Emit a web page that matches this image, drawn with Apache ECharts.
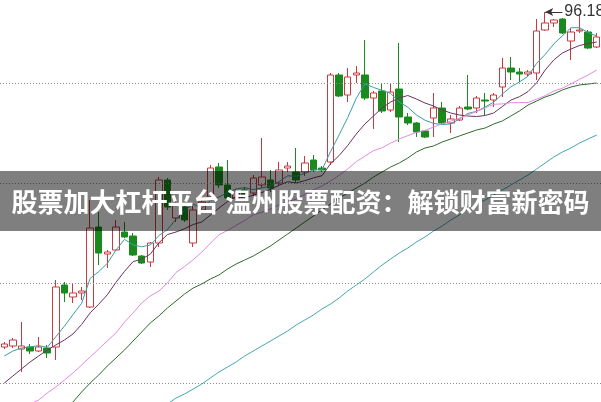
<!DOCTYPE html>
<html>
<head>
<meta charset="utf-8">
<script src="https://cdn.jsdelivr.net/npm/echarts@6/dist/echarts.min.js"></script>
<style>html,body{margin:0;padding:0;background:#fff;}#c{width:601px;height:402px;}</style>
</head>
<body>
<div id="c"></div>
<script>
const categories = Array.from({length: 70}, (_, i) => 'D' + (i + 1));

const openVals = [62.68,62.78,62.48,62.68,62.28,62.58,62.68,68.88,67.68,68.08,
66.68,74.68,71.98,72.38,74.18,73.78,71.78,71.18,73.08,79.38,
75.58,76.68,73.08,76.38,77.68,80.68,78.88,77.58,78.38,78.08,
78.88,79.38,79.08,80.58,80.18,80.18,81.38,80.58,81.18,89.88,
87.88,89.88,89.88,87.58,88.28,86.38,88.48,85.68,85.08,84.28,
85.58,86.58,85.08,85.38,86.68,86.58,87.38,87.38,88.68,90.58,
90.18,89.98,90.08,94.38,95.08,95.48,93.28,94.28,94.18,92.68];

const closeVals = [62.98,63.38,62.78,62.28,62.68,62.08,68.68,68.08,68.08,68.28,
74.58,72.08,72.18,74.68,73.68,71.88,71.08,73.08,79.38,76.68,
77.08,75.38,76.38,77.18,80.58,78.88,77.58,78.18,77.88,79.58,
79.68,78.58,80.38,80.78,79.38,81.08,80.38,80.38,89.88,87.78,
89.68,90.08,87.58,88.08,86.28,88.18,85.68,85.08,84.18,83.68,
86.58,85.08,85.48,86.58,86.48,87.58,87.28,87.88,90.58,90.18,
89.98,90.18,94.28,95.08,95.38,94.08,94.18,94.38,92.58,93.68];

const lowVals = [62.48,62.58,60.18,61.98,62.18,61.58,61.38,67.18,67.08,67.38,
66.58,70.88,70.58,72.28,73.58,71.78,70.98,70.68,72.68,76.38,
75.18,75.18,72.68,76.18,77.38,78.58,77.38,77.38,77.68,77.78,
78.58,78.18,78.78,80.18,79.08,79.78,80.18,80.18,80.88,87.68,
87.18,89.08,87.38,84.48,86.08,86.18,83.18,84.88,83.68,83.58,
83.68,84.98,84.08,85.28,86.38,86.08,85.88,86.68,87.68,89.38,
89.18,89.78,89.38,94.28,94.68,93.98,91.38,94.08,92.48,92.58];

const highVals = [63.18,63.58,65.18,62.98,63.68,62.88,69.38,69.18,69.08,68.68,
77.38,76.18,72.38,75.38,75.18,74.08,71.88,73.18,79.68,79.58,
77.58,76.88,76.88,77.58,80.88,81.08,81.38,78.48,78.68,79.88,
83.58,80.38,81.18,81.18,82.58,81.78,81.88,80.78,90.08,90.08,
90.58,90.78,93.38,88.28,89.08,88.98,93.08,86.08,85.18,84.38,
88.08,87.18,85.88,86.78,89.88,87.78,88.08,88.08,91.58,91.68,
90.58,90.38,95.48,96.18,95.48,95.58,94.58,95.88,94.38,94.08];

const ma5 = [61.78,62.28,62.58,62.68,62.82,62.64,63.70,64.76,65.92,67.04,
69.54,70.22,71.04,72.36,73.44,72.90,72.70,72.88,73.82,74.42,
75.46,76.32,76.98,76.54,77.32,77.68,78.12,78.48,78.62,78.42,
78.58,78.78,79.22,79.80,79.76,80.04,80.40,80.40,82.22,83.90,
85.62,87.56,89.00,88.64,88.34,88.04,87.16,86.66,85.88,85.36,
85.04,84.92,85.00,85.48,86.04,86.24,86.68,87.16,87.96,88.70,
89.18,89.76,91.04,91.94,92.98,93.80,94.60,94.62,94.12,93.78];

const ma10 = [59.08,59.78,60.48,61.18,61.78,62.38,62.88,63.38,63.98,64.93,
66.09,66.96,67.90,69.14,70.24,71.22,71.46,71.96,73.09,73.93,
74.18,74.51,74.93,75.18,75.87,76.57,77.22,77.73,77.58,77.87,
78.13,78.45,78.85,79.21,79.09,79.31,79.59,79.81,81.01,81.83,
82.83,83.98,84.98,85.78,86.58,87.18,87.58,87.83,87.48,87.08,
86.78,86.38,86.08,85.88,85.78,85.73,85.83,86.08,86.72,87.37,
87.71,88.22,89.10,90.38,91.38,92.08,92.48,92.83,93.03,93.18];

const ma20 = [55.38,55.98,56.48,56.98,57.38,58.08,58.68,59.38,60.08,60.88,
61.68,62.48,63.28,64.08,65.18,66.08,67.08,67.78,68.28,69.08,
70.13,70.73,71.41,72.16,73.05,73.89,74.34,74.84,75.33,75.90,
76.15,76.48,76.89,77.19,77.48,77.94,78.40,78.77,79.29,79.85,
80.48,81.21,81.77,82.32,82.60,83.07,83.47,83.82,84.13,84.34,
84.68,85.01,85.26,85.55,85.91,86.23,86.58,86.95,86.99,87.11,
87.12,87.13,87.46,87.81,88.27,88.56,88.99,89.45,89.88,90.38];

const ma60 = [52.38,52.98,53.58,54.18,54.78,55.38,55.98,56.58,57.18,58.18,
59.08,59.88,60.78,61.58,62.38,63.28,64.18,65.08,65.78,66.58,
67.28,67.98,68.58,68.98,69.48,69.88,70.48,70.98,71.38,71.78,
72.28,72.78,73.38,73.98,74.58,75.18,75.78,76.38,76.98,77.58,
78.08,78.58,79.08,79.68,80.18,80.68,81.08,81.58,82.18,82.58,
82.78,83.18,83.48,83.78,84.08,84.38,84.58,84.98,85.28,85.78,
86.28,86.88,87.28,87.68,87.98,88.38,88.68,88.88,88.98,89.08];

const ma120 = [null,null,null,null,null,null,null,null,null,null,
null,null,null,null,null,54.88,55.48,55.98,56.48,56.98,
57.58,57.98,58.48,58.98,59.58,60.18,60.68,61.18,61.78,62.28,
62.78,63.28,63.78,64.28,64.88,65.38,65.88,66.48,66.98,67.58,
68.28,68.88,69.48,70.18,70.88,71.48,72.08,72.58,73.18,73.68,
74.28,74.78,75.38,75.88,76.48,76.98,77.38,77.88,78.38,78.88,
79.38,79.88,80.48,81.08,81.68,82.18,82.58,83.08,83.48,83.88];

const gridVals = [89.08, 79.08, 69.08, 59.08];

const bannerText = '股票加大杠杆平台 温州股票配资：解锁财富新密码';

const kData = openVals.map((o, i) => [o, closeVals[i], lowVals[i], highVals[i]]);
const maxHigh = Math.max(...highVals);
const maxIdx = highVals.indexOf(maxHigh);

const chart = echarts.init(document.getElementById('c'), null, {renderer: 'canvas'});

function maLine(name, data, color, z) {
  return {
    name, type: 'line', data, showSymbol: false, symbol: 'none', smooth: false,
    lineStyle: {color, width: 1}, z, animation: false, silent: true
  };
}

chart.setOption({
  animation: false,
  backgroundColor: '#ffffff',
  grid: {left: -6, top: 0, width: 612.5, height: 402, containLabel: false},
  xAxis: {
    type: 'category', data: categories, boundaryGap: true,
    axisLine: {show: false}, axisTick: {show: false}, axisLabel: {show: false}, splitLine: {show: false}
  },
  yAxis: {
    type: 'value', min: 57.18, max: 97.38, scale: true,
    axisLine: {show: false}, axisTick: {show: false}, axisLabel: {show: false}, splitLine: {show: false}
  },
  series: [
    {
      name: 'grid', type: 'line', data: [], z: 1, silent: true,
      markLine: {
        silent: true, symbol: ['none', 'none'], animation: false,
        label: {show: false},
        lineStyle: {color: '#8c8c8c', width: 1, type: [1, 2]},
        data: gridVals.map(v => ({yAxis: v}))
      }
    },
    {
      name: 'K', type: 'candlestick', data: kData, barWidth: 7, z: 2,
      itemStyle: {
        color: '#ffffff', color0: '#1a8a1f',
        borderColor: '#c93a3f', borderColor0: '#1a8a1f', borderWidth: 1
      },
      markLine: {
        silent: true, animation: false,
        symbol: ['arrow', 'none'], symbolSize: [6, 8],
        lineStyle: {color: '#333333', width: 1, type: 'solid'},
        label: {
          show: true, position: 'end', distance: 2,
          color: '#333333', fontSize: 16, fontFamily: 'Liberation Sans, Arial',
          formatter: () => maxHigh.toFixed(2)
        },
        data: [[
          {coord: [maxIdx, maxHigh]},
          {coord: [maxIdx + 1.6, maxHigh]}
        ]]
      }
    },
    maLine('MA5', ma5, '#3a9ea6', 3),
    maLine('MA10', ma10, '#6a3460', 3),
    maLine('MA20', ma20, '#e38be3', 3),
    maLine('MA60', ma60, '#2f6a2f', 3),
    maLine('MA120', ma120, '#45a6b4', 3)
  ],
  graphic: [
    {
      type: 'rect', left: 0, top: 171, z: 100, silent: true,
      shape: {width: 601, height: 60},
      style: {fill: 'rgba(0,0,0,0.5)'}
    },
    {
      type: 'text', z: 101, silent: true,
      x: 300.5, y: 202,
      style: {
        text: bannerText, fill: '#ffffff',
        font: 'bold 26px "Noto Sans CJK SC", sans-serif',
        align: 'center', verticalAlign: 'middle'
      }
    }
  ]
});
</script>
</body>
</html>
